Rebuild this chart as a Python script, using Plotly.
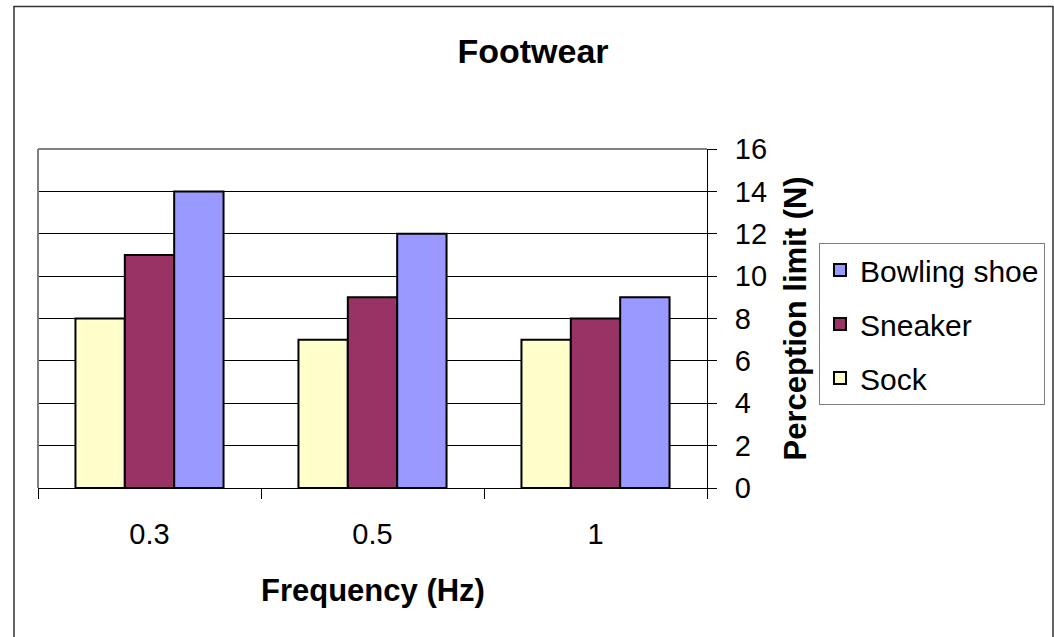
import plotly.graph_objects as go

categories = ["0.3", "0.5", "1"]
sock = [8, 7, 7]
sneaker = [11, 9, 8]
bowling_shoe = [14, 12, 9]
y_ticks = [0, 2, 4, 6, 8, 10, 12, 14, 16]

FONT = "Liberation Sans, Arial, sans-serif"

fig = go.Figure()
series = [("Sock", sock, "#FFFFCC", 3), ("Sneaker", sneaker, "#993366", 2),
          ("Bowling shoe", bowling_shoe, "#9999FF", 1)]
for name, vals, col, rank in series:
    fig.add_trace(go.Bar(
        x=categories, y=vals, name=name, legendgroup=name, legendrank=rank,
        marker=dict(color=col, line=dict(color="black", width=2)),
    ))
# helper for crossing ticks on the value axis
fig.add_trace(go.Scatter(x=[], y=[], yaxis="y2", showlegend=False, hoverinfo="skip"))

fig.update_layout(
    width=1054, height=637,
    margin=dict(l=38, r=347, t=149, b=149, autoexpand=False),
    paper_bgcolor="white", plot_bgcolor="white",
    barmode="group", bargap=0.336, bargroupgap=0,
    font=dict(family=FONT, size=29, color="black"),
    title=dict(text="<b>Footwear</b>", x=(533 / 1054), xanchor="center",
               y=1 - 51 / 637, yanchor="middle", font=dict(size=34)),
    xaxis=dict(type="category", showline=True, linecolor="black", linewidth=1,
               ticks="outside", ticklen=10, tickcolor="black", tickson="boundaries",
               showgrid=False, tickfont=dict(size=29), ticklabelstandoff=20),
    yaxis=dict(side="right", range=[0, 16], tickvals=y_ticks, showline=True,
               linecolor="black", linewidth=1, ticks="outside", ticklen=9,
               tickcolor="black", showgrid=True, gridcolor="black", gridwidth=1,
               zeroline=False, tickfont=dict(size=29), ticklabelstandoff=12),
    yaxis2=dict(overlaying="y", side="right", anchor="x", range=[0, 16],
                tickvals=y_ticks, ticks="inside", ticklen=8, tickcolor="black",
                showticklabels=False, showgrid=False, zeroline=False, showline=False),
    legend=dict(x=(819 - 38) / 669, y=(488 - 243) / 339, xanchor="left", yanchor="top",
                traceorder="grouped", tracegroupgap=12,
                bgcolor="white", bordercolor="#808080", borderwidth=1,
                font=dict(size=30), itemwidth=30),
    showlegend=True,
)

fig.add_annotation(text="<b>Frequency (Hz)</b>", xref="paper", yref="paper",
                   x=0.5, y=(488 - 590) / 339, xanchor="center", yanchor="middle",
                   showarrow=False, font=dict(size=31))
fig.add_annotation(text="<b>Perception limit (N)</b>", xref="paper", yref="paper",
                   x=(795 - 38) / 669, y=0.5, xanchor="center", yanchor="middle",
                   textangle=-90, showarrow=False, font=dict(size=31))

# plot-area gray frame (left and top), outer chart border
fig.add_shape(type="line", xref="paper", yref="paper", x0=0, x1=0, y0=0, y1=1,
              line=dict(color="#808080", width=2), layer="above")
fig.add_shape(type="line", xref="paper", yref="paper", x0=0, x1=1, y0=1, y1=1,
              line=dict(color="#808080", width=2), layer="above")
fig.add_shape(type="rect", xref="paper", yref="paper",
              x0=(14 - 38) / 669, x1=(1053 - 38) / 669,
              y0=(488 - 660) / 339, y1=(488 - 6.5) / 339,
              line=dict(color="#333333", width=1.5), layer="above")

fig.write_html("out.html")
